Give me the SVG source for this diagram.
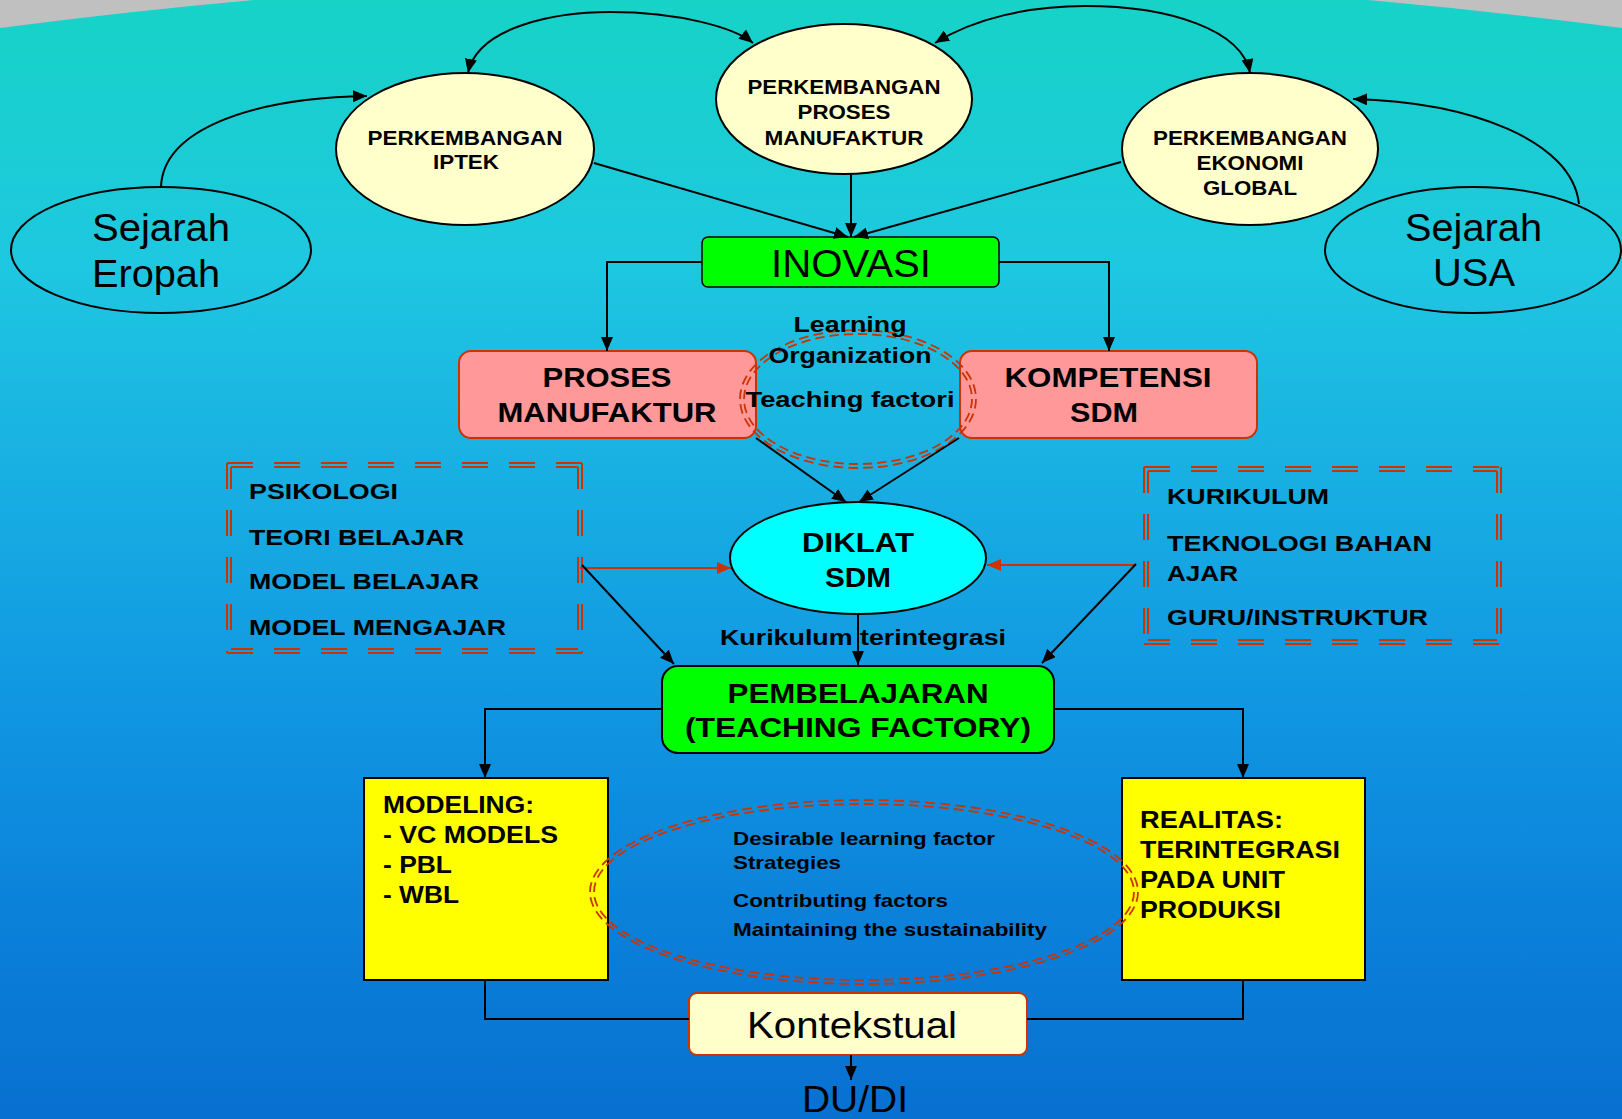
<svg xmlns="http://www.w3.org/2000/svg" width="1622" height="1119" viewBox="0 0 1622 1119">
<defs>
<linearGradient id="bg" x1="0" y1="0" x2="0" y2="1">
<stop offset="0" stop-color="#16d4c6"/>
<stop offset="0.08" stop-color="#18d0cc"/>
<stop offset="0.25" stop-color="#1ec8e0"/>
<stop offset="0.36" stop-color="#1bb9e2"/>
<stop offset="0.64" stop-color="#1096e2"/>
<stop offset="0.85" stop-color="#0a7ed8"/>
<stop offset="1" stop-color="#0870d0"/>
</linearGradient>
<marker id="ah" markerUnits="userSpaceOnUse" markerWidth="14" markerHeight="12" refX="14" refY="6" orient="auto-start-reverse">
<path d="M0,0 L14,6 L0,12 Z" fill="#000"/>
</marker>
<marker id="ahr" markerUnits="userSpaceOnUse" markerWidth="14" markerHeight="12" refX="14" refY="6" orient="auto">
<path d="M0,0 L14,6 L0,12 Z" fill="#cc3300"/>
</marker>
<style>
.t{font-family:"Liberation Sans",Arial,sans-serif;fill:#000}
.b{font-weight:bold}
.m{text-anchor:middle}
.ln{fill:none;stroke:#000;stroke-width:2}
.lr{fill:none;stroke:#cc3300;stroke-width:2}
.ell{fill:#ffffcc;stroke:#000;stroke-width:2}
.oel{fill:none;stroke:#000;stroke-width:2}
.dsh{fill:none;stroke:#cc3300;stroke-width:2;stroke-dasharray:26 21}
.dsi{fill:none;stroke:#cc3300;stroke-width:2;stroke-dasharray:26 21;stroke-dashoffset:4}
.dse{fill:none;stroke:#cc3300;stroke-width:1.8;stroke-dasharray:6.5 3.5}
</style>
</defs>
<rect x="0" y="0" width="1622" height="1119" fill="#c0c0c0"/>
<path d="M0,28 Q811,-78 1622,28 V1119 H0 Z" fill="url(#bg)"/>

<g id="sejarah-eropah">
<ellipse class="oel" cx="161" cy="250" rx="150" ry="63"/>
<text class="t" x="92" y="241" font-size="38" textLength="138" lengthAdjust="spacingAndGlyphs">Sejarah</text>
<text class="t" x="92" y="287" font-size="38" textLength="128" lengthAdjust="spacingAndGlyphs">Eropah</text>
</g>
<g id="sejarah-usa">
<ellipse class="oel" cx="1473" cy="250" rx="148" ry="63"/>
<text class="t" x="1405" y="241" font-size="38" textLength="137" lengthAdjust="spacingAndGlyphs">Sejarah</text>
<text class="t" x="1433" y="286" font-size="38" textLength="82" lengthAdjust="spacingAndGlyphs">USA</text>
</g>
<g id="perkembangan-iptek">
<ellipse class="ell" cx="465" cy="149" rx="129" ry="76"/>
<text class="t b m" x="465" y="145" font-size="20" textLength="195" lengthAdjust="spacingAndGlyphs">PERKEMBANGAN</text>
<text class="t b m" x="466" y="169" font-size="20" textLength="66" lengthAdjust="spacingAndGlyphs">IPTEK</text>
</g>
<g id="perkembangan-proses">
<ellipse class="ell" cx="844" cy="99" rx="128" ry="75"/>
<text class="t b m" x="844" y="94" font-size="20" textLength="193" lengthAdjust="spacingAndGlyphs">PERKEMBANGAN</text>
<text class="t b m" x="844" y="119" font-size="20" textLength="93" lengthAdjust="spacingAndGlyphs">PROSES</text>
<text class="t b m" x="844" y="145" font-size="20" textLength="159" lengthAdjust="spacingAndGlyphs">MANUFAKTUR</text>
</g>
<g id="perkembangan-ekonomi">
<ellipse class="ell" cx="1250" cy="149" rx="128" ry="76"/>
<text class="t b m" x="1250" y="145" font-size="20" textLength="194" lengthAdjust="spacingAndGlyphs">PERKEMBANGAN</text>
<text class="t b m" x="1250" y="170" font-size="20" textLength="107" lengthAdjust="spacingAndGlyphs">EKONOMI</text>
<text class="t b m" x="1250" y="195" font-size="20" textLength="94" lengthAdjust="spacingAndGlyphs">GLOBAL</text>
</g>
<g id="inovasi">
<rect x="702" y="237" width="297" height="50" rx="6" fill="#00ff00" stroke="#000" stroke-width="1.5"/>
<text class="t m" x="851" y="277" font-size="38" textLength="160" lengthAdjust="spacingAndGlyphs">INOVASI</text>
</g>
<g id="proses-manufaktur">
<rect x="459" y="351" width="297" height="87" rx="12" fill="#ff9999" stroke="#cc3300" stroke-width="2"/>
<text class="t b m" x="607" y="387" font-size="28" textLength="129" lengthAdjust="spacingAndGlyphs">PROSES</text>
<text class="t b m" x="607" y="422" font-size="28" textLength="219" lengthAdjust="spacingAndGlyphs">MANUFAKTUR</text>
</g>
<g id="kompetensi-sdm">
<rect x="960" y="351" width="297" height="87" rx="12" fill="#ff9999" stroke="#cc3300" stroke-width="2"/>
<text class="t b m" x="1108" y="387" font-size="28" textLength="207" lengthAdjust="spacingAndGlyphs">KOMPETENSI</text>
<text class="t b m" x="1104" y="422" font-size="28" textLength="68" lengthAdjust="spacingAndGlyphs">SDM</text>
</g>
<g id="learning-organization">
<ellipse class="dse" cx="858" cy="399" rx="118" ry="69" pathLength="400"/>
<ellipse class="dse" cx="858" cy="399" rx="114" ry="65" pathLength="400"/>
<text class="t b m" x="850" y="332" font-size="22" textLength="113" lengthAdjust="spacingAndGlyphs">Learning</text>
<text class="t b m" x="850" y="363" font-size="22" textLength="163" lengthAdjust="spacingAndGlyphs">Organization</text>
<text class="t b m" x="850" y="407" font-size="22" textLength="209" lengthAdjust="spacingAndGlyphs">Teaching factori</text>
</g>
<g id="diklat-sdm">
<ellipse cx="858" cy="558" rx="128" ry="56" fill="#00ffff" stroke="#000" stroke-width="2"/>
<text class="t b m" x="858" y="552" font-size="28" textLength="112" lengthAdjust="spacingAndGlyphs">DIKLAT</text>
<text class="t b m" x="858" y="587" font-size="28" textLength="66" lengthAdjust="spacingAndGlyphs">SDM</text>
</g>
<g id="psikologi-box">
<path class="dsh" d="M227,463 H582"/>
<path class="dsi" d="M231,467 H578"/>
<path class="dsh" d="M227,653 H582"/>
<path class="dsi" d="M231,649 H578"/>
<path class="dsh" d="M227,463 V653"/>
<path class="dsi" d="M231,467 V649"/>
<path class="dsh" d="M582,463 V653"/>
<path class="dsi" d="M578,467 V649"/>
<text class="t b" x="249" y="499" font-size="22" textLength="149" lengthAdjust="spacingAndGlyphs">PSIKOLOGI</text>
<text class="t b" x="249" y="545" font-size="22" textLength="215" lengthAdjust="spacingAndGlyphs">TEORI BELAJAR</text>
<text class="t b" x="249" y="589" font-size="22" textLength="230" lengthAdjust="spacingAndGlyphs">MODEL BELAJAR</text>
<text class="t b" x="249" y="635" font-size="22" textLength="257" lengthAdjust="spacingAndGlyphs">MODEL MENGAJAR</text>
</g>
<g id="kurikulum-box">
<path class="dsh" d="M1144,467 H1501"/>
<path class="dsi" d="M1148,471 H1497"/>
<path class="dsh" d="M1144,644 H1501"/>
<path class="dsi" d="M1148,640 H1497"/>
<path class="dsh" d="M1144,467 V644"/>
<path class="dsi" d="M1148,471 V640"/>
<path class="dsh" d="M1501,467 V644"/>
<path class="dsi" d="M1497,471 V640"/>
<text class="t b" x="1167" y="504" font-size="22" textLength="162" lengthAdjust="spacingAndGlyphs">KURIKULUM</text>
<text class="t b" x="1167" y="551" font-size="22" textLength="265" lengthAdjust="spacingAndGlyphs">TEKNOLOGI BAHAN</text>
<text class="t b" x="1167" y="581" font-size="22" textLength="71" lengthAdjust="spacingAndGlyphs">AJAR</text>
<text class="t b" x="1167" y="625" font-size="22" textLength="261" lengthAdjust="spacingAndGlyphs">GURU/INSTRUKTUR</text>
</g>
<g id="kurikulum-terintegrasi">
<text class="t b" x="720" y="645" font-size="22" textLength="286" lengthAdjust="spacingAndGlyphs">Kurikulum terintegrasi</text>
</g>
<g id="pembelajaran">
<rect x="662" y="666" width="392" height="87" rx="16" fill="#00ff00" stroke="#000" stroke-width="2"/>
<text class="t b m" x="858" y="703" font-size="28" textLength="261" lengthAdjust="spacingAndGlyphs">PEMBELAJARAN</text>
<text class="t b m" x="858" y="737" font-size="28" textLength="346" lengthAdjust="spacingAndGlyphs">(TEACHING FACTORY)</text>
</g>
<g id="modeling">
<rect x="364" y="778" width="244" height="202" fill="#ffff00" stroke="#000" stroke-width="2"/>
<text class="t b" x="383" y="813" font-size="23" textLength="151" lengthAdjust="spacingAndGlyphs">MODELING:</text>
<text class="t b" x="383" y="843" font-size="23" textLength="175" lengthAdjust="spacingAndGlyphs">- VC MODELS</text>
<text class="t b" x="383" y="873" font-size="23" textLength="69" lengthAdjust="spacingAndGlyphs">- PBL</text>
<text class="t b" x="383" y="903" font-size="23" textLength="76" lengthAdjust="spacingAndGlyphs">- WBL</text>
</g>
<g id="realitas">
<rect x="1122" y="778" width="243" height="202" fill="#ffff00" stroke="#000" stroke-width="2"/>
<text class="t b" x="1140" y="828" font-size="23" textLength="143" lengthAdjust="spacingAndGlyphs">REALITAS:</text>
<text class="t b" x="1140" y="858" font-size="23" textLength="200" lengthAdjust="spacingAndGlyphs">TERINTEGRASI</text>
<text class="t b" x="1140" y="888" font-size="23" textLength="145" lengthAdjust="spacingAndGlyphs">PADA UNIT</text>
<text class="t b" x="1140" y="918" font-size="23" textLength="141" lengthAdjust="spacingAndGlyphs">PRODUKSI</text>
</g>
<g id="factors">
<ellipse class="dse" cx="864" cy="892" rx="274" ry="92" pathLength="800"/>
<ellipse class="dse" cx="864" cy="892" rx="270" ry="88" pathLength="800"/>
<text class="t b" x="733" y="845" font-size="19" textLength="262" lengthAdjust="spacingAndGlyphs">Desirable learning factor</text>
<text class="t b" x="733" y="869" font-size="19" textLength="108" lengthAdjust="spacingAndGlyphs">Strategies</text>
<text class="t b" x="733" y="907" font-size="19" textLength="215" lengthAdjust="spacingAndGlyphs">Contributing factors</text>
<text class="t b" x="733" y="936" font-size="19" textLength="314" lengthAdjust="spacingAndGlyphs">Maintaining the sustainability</text>
</g>
<g id="kontekstual">
<rect x="689" y="993" width="338" height="62" rx="8" fill="#ffffcc" stroke="#cc3300" stroke-width="2"/>
<text class="t m" x="852" y="1038" font-size="37" textLength="210" lengthAdjust="spacingAndGlyphs">Kontekstual</text>
</g>
<g id="du-di">
<text class="t m" x="855" y="1112" font-size="36" textLength="106" lengthAdjust="spacingAndGlyphs">DU/DI</text>
</g>

<g id="connectors">
<path class="ln" d="M468,73 C478,25 560,12 610,12 C680,12 735,28 753,43" marker-start="url(#ah)" marker-end="url(#ah)"/>
<path class="ln" d="M935,43 C975,18 1030,6 1085,6 C1170,6 1242,30 1250,73" marker-start="url(#ah)" marker-end="url(#ah)"/>
<path class="ln" d="M161,187 C163,130 250,98 367,96" marker-end="url(#ah)"/>
<path class="ln" d="M1579,204 C1572,140 1470,102 1353,99" marker-end="url(#ah)"/>
<path class="ln" d="M594,163 L848,237" marker-end="url(#ah)"/>
<path class="ln" d="M851,175 L851,237" marker-end="url(#ah)"/>
<path class="ln" d="M1121,162 L854,237" marker-end="url(#ah)"/>
<path class="ln" d="M702,262 H607 V351" marker-end="url(#ah)"/>
<path class="ln" d="M999,262 H1109 V351" marker-end="url(#ah)"/>
<path class="ln" d="M756,438 L846,502" marker-end="url(#ah)"/>
<path class="ln" d="M959,438 L859,502" marker-end="url(#ah)"/>
<path class="lr" d="M580,568 H731" marker-end="url(#ahr)"/>
<path class="lr" d="M1136,565 H987" marker-end="url(#ahr)"/>
<path class="ln" d="M582,565 L674,664" marker-end="url(#ah)"/>
<path class="ln" d="M1136,564 L1042,663" marker-end="url(#ah)"/>
<path class="ln" d="M858,614 V665" marker-end="url(#ah)"/>
<path class="ln" d="M662,709 H485 V778" marker-end="url(#ah)"/>
<path class="ln" d="M1054,709 H1243 V778" marker-end="url(#ah)"/>
<path class="ln" d="M485,980 V1019 H689"/>
<path class="ln" d="M1243,980 V1019 H1027"/>
<path class="ln" d="M851,1055 V1080" marker-end="url(#ah)"/>
</g>
</svg>
